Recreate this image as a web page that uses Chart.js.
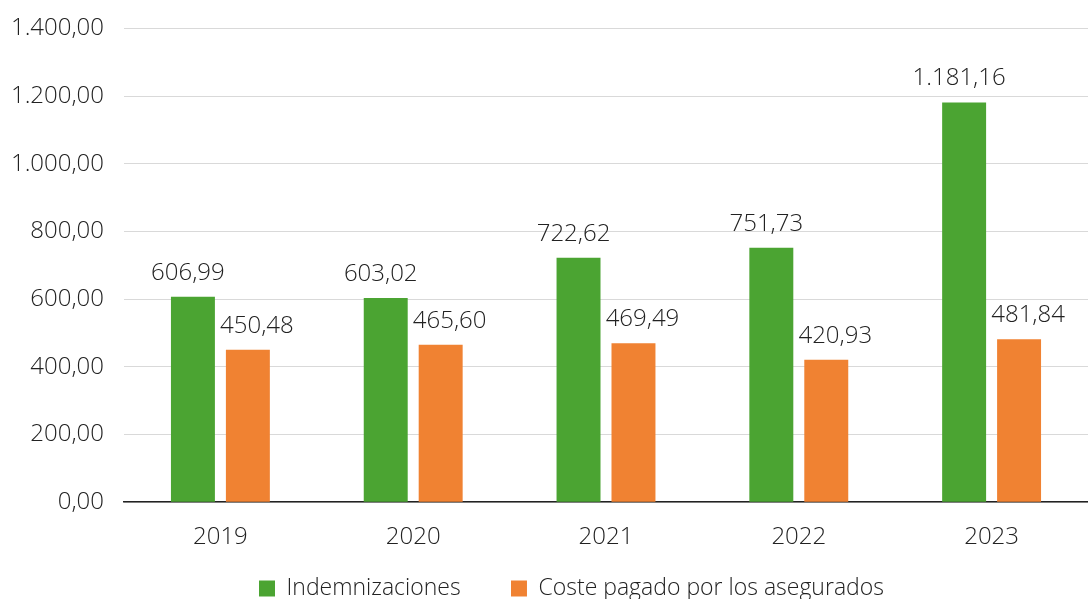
<!DOCTYPE html>
<html>
<head>
<meta charset="utf-8">
<script src="https://cdn.jsdelivr.net/npm/chart.js@4"></script>
<style>
  html, body { margin: 0; padding: 0; background: #fff; overflow: hidden; }
  .wrap { width: 1088px; height: 616px; margin-top: -6px; position: relative; }
</style>
</head>
<body>
<div class="wrap"><canvas id="myChart"></canvas></div>
<script>
const years = ['2019', '2020', '2021', '2022', '2023'];
const indemnizaciones = [606.99, 603.02, 722.62, 751.73, 1181.16];
const costePagado = [450.48, 465.60, 469.49, 420.93, 481.84];

const fontFamily = "'Open Sans', 'Noto Sans', sans-serif";
const textColor = '#222';

// es-ES style number: 1.181,16
function fmt(v) {
  const parts = v.toFixed(2).split('.');
  const int = parts[0].replace(/\B(?=(\d{3})+(?!\d))/g, '.');
  return int + ',' + parts[1];
}

const valueLabels = {
  id: 'valueLabels',
  afterDatasetsDraw(chart) {
    const ctx = chart.ctx;
    ctx.save();
    ctx.font = '300 24px ' + fontFamily;
    ctx.fillStyle = textColor;
    ctx.textAlign = 'center';
    ctx.textBaseline = 'alphabetic';
    chart.data.datasets.forEach((ds, i) => {
      const meta = chart.getDatasetMeta(i);
      meta.data.forEach((bar, j) => {
        const shift = i === 0 ? -5 : 9;
        ctx.fillText(fmt(ds.data[j]), bar.x + shift, bar.y - 17);
      });
    });
    ctx.restore();
  }
};

// legend in the original sits a bit right of centre
const legendShift = {
  id: 'legendShift',
  afterLayout(chart) {
    chart.legend.left += 55;
  }
};

const ctx = document.getElementById('myChart');

new Chart(ctx, {
  type: 'bar',
  data: {
    labels: years,
    datasets: [
      {
        label: 'Indemnizaciones',
        data: indemnizaciones,
        backgroundColor: '#4ba432'
      },
      {
        label: 'Coste pagado por los asegurados',
        data: costePagado,
        backgroundColor: '#f08232'
      }
    ]
  },
  options: {
    responsive: true,
    maintainAspectRatio: false,
    animation: false,
    layout: { padding: { top: 0, right: 0, left: 0, bottom: 0 } },
    datasets: {
      bar: { categoryPercentage: 0.57, barPercentage: 0.8 }
    },
    plugins: {
      legend: {
        position: 'bottom',
        labels: {
          boxWidth: 16,
          boxHeight: 16,
          padding: 12,
          color: textColor,
          font: { size: 23, family: fontFamily, weight: 300 },
          generateLabels(chart) {
            const items = Chart.defaults.plugins.legend.labels.generateLabels(chart);
            items[0].text += '\u2002\u2002\u2002\u2009';
            return items;
          }
        }
      },
      tooltip: { enabled: false }
    },
    scales: {
      x: {
        grid: { display: false },
        border: { display: true, color: '#222', width: 1.5 },
        ticks: {
          color: textColor,
          padding: 13,
          font: { size: 24, family: fontFamily, weight: 300 }
        }
      },
      y: {
        min: 0,
        max: 1400,
        grid: { color: '#d9d9d9', drawTicks: false },
        border: { display: false },
        afterFit(scale) { scale.width = 124; },
        ticks: {
          stepSize: 200,
          color: textColor,
          padding: 20,
          font: { size: 24, family: fontFamily, weight: 300 },
          callback: v => fmt(v)
        }
      }
    }
  },
  plugins: [valueLabels, legendShift]
});
</script>
</body>
</html>
